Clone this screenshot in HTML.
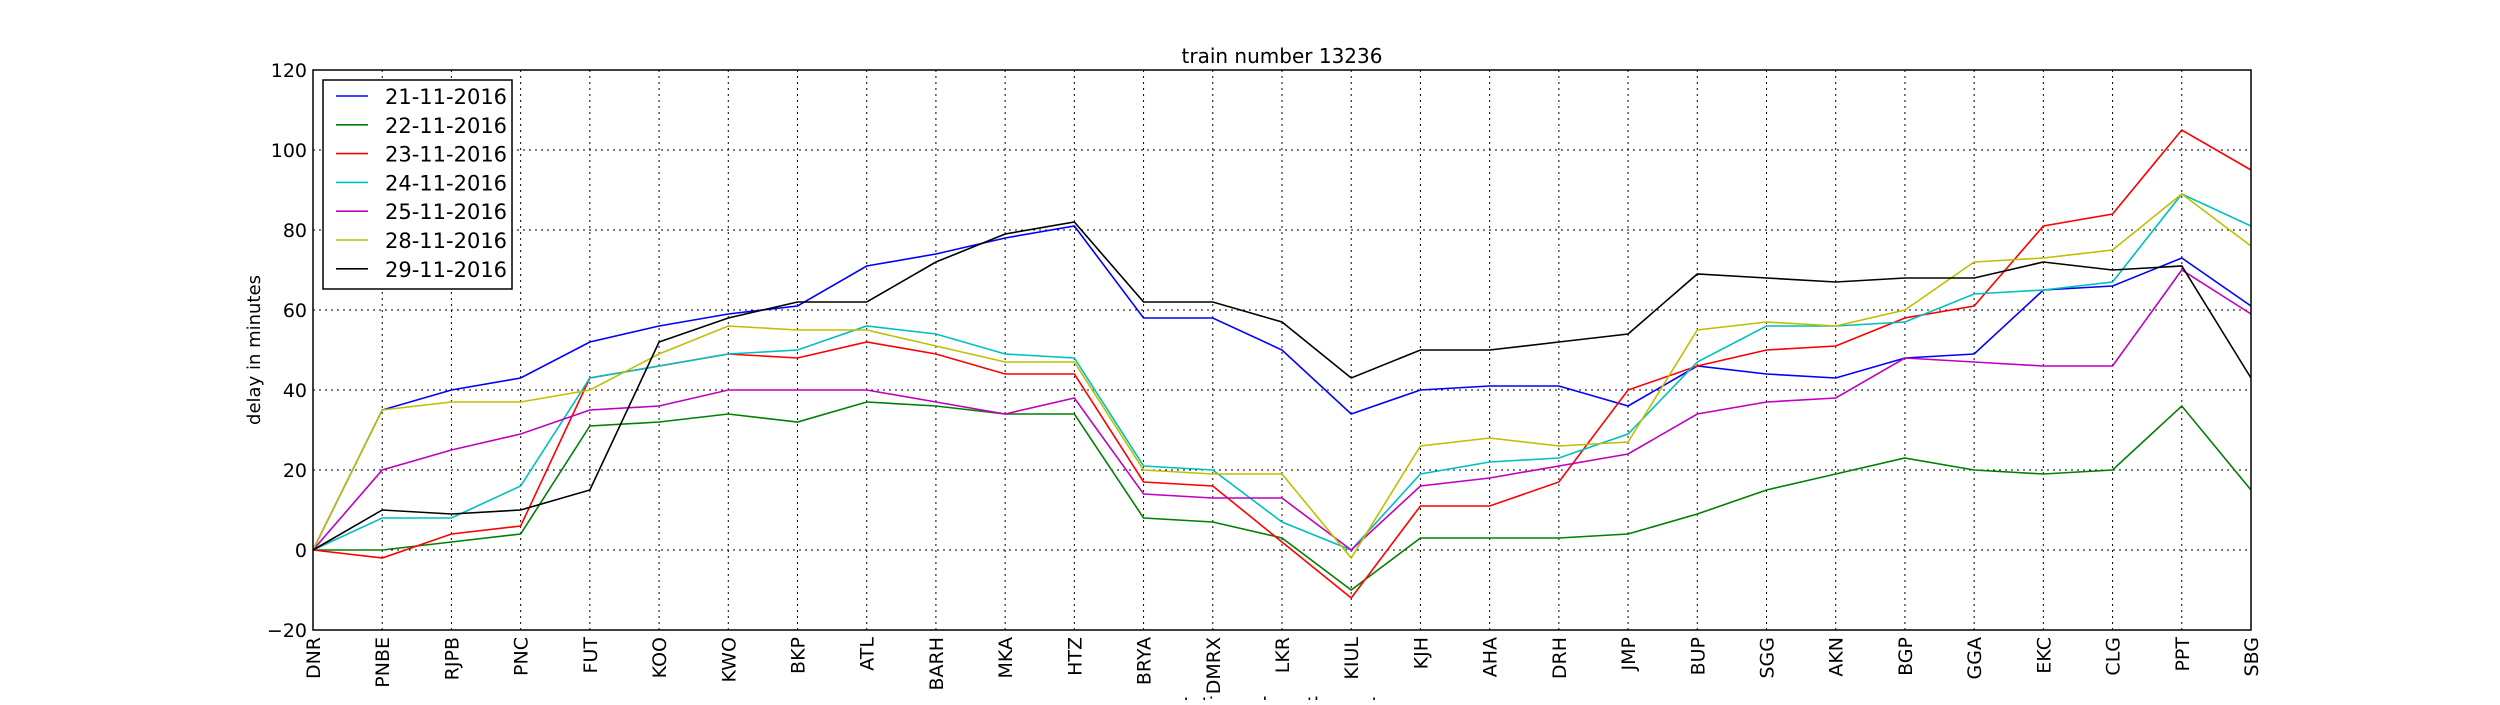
<!DOCTYPE html>
<html><head><meta charset="utf-8"><style>
body{margin:0;background:#fff;}
svg text{font-family:"DejaVu Sans","Liberation Sans",sans-serif;}
</style></head><body>
<svg id="chart" width="2500" height="700" xmlns="http://www.w3.org/2000/svg">
<rect width="2500" height="700" fill="#fff"/>
<text x="1282" y="63" font-size="20" text-anchor="middle">train number 13236</text>
<text transform="translate(260,350) rotate(-90)" font-size="18" text-anchor="middle">delay in minutes</text>
<text x="1282" y="710" font-size="18" text-anchor="middle">stations along the route</text>
<g id="grid"></g><g id="series"></g><g id="axes"></g><g id="legend"></g>
</svg>
<script>
const stations=["DNR","PNBE","RJPB","PNC","FUT","KOO","KWO","BKP","ATL","BARH","MKA","HTZ","BRYA","DMRX","LKR","KIUL","KJH","AHA","DRH","JMP","BUP","SGG","AKN","BGP","GGA","EKC","CLG","PPT","SBG"];
const yTicks=[-20,0,20,40,60,80,100,120];
const seriesNames=["21-11-2016","22-11-2016","23-11-2016","24-11-2016","25-11-2016","28-11-2016","29-11-2016"];
const seriesColors=["#0000ff","#008000","#ff0000","#00bfbf","#bf00bf","#bfbf00","#000000"];
const s21=[0,35,40,43,52,56,59,61,71,74,78,81,58,58,50,34,40,41,41,36,46,44,43,48,49,65,66,73,61];
const s22=[0,0,2,4,31,32,34,32,37,36,34,34,8,7,3,-10,3,3,3,4,9,15,19,23,20,19,20,36,15];
const s23=[0,-2,4,6,43,46,49,48,52,49,44,44,17,16,2,-12,11,11,17,40,46,50,51,58,61,81,84,105,95];
const s24=[0,8,8,16,43,46,49,50,56,54,49,48,21,20,7,0,19,22,23,29,47,56,56,57,64,65,67,89,81];
const s25=[0,20,25,29,35,36,40,40,40,37,34,38,14,13,13,0,16,18,21,24,34,37,38,48,47,46,46,70,59];
const s28=[0,35,37,37,40,49,56,55,55,51,47,47,20,19,19,-2,26,28,26,27,55,57,56,60,72,73,75,89,76];
const s29=[0,10,9,10,15,52,58,62,62,72,79,82,62,62,57,43,50,50,52,54,69,68,67,68,68,72,70,71,43];
const allSeries=[s21,s22,s23,s24,s25,s28,s29];
const L=313,R=2251,T=70,B=630,yMin=-20,yMax=120;
const xs=i=>L+(R-L)*i/(stations.length-1);
const ys=v=>B-(v-yMin)/(yMax-yMin)*(B-T);
const NS="http://www.w3.org/2000/svg";
function mk(tag,attrs,parent){const e=document.createElementNS(NS,tag);for(const k in attrs)e.setAttribute(k,attrs[k]);parent.appendChild(e);return e;}
const grid=document.getElementById('grid'),axes=document.getElementById('axes'),ser=document.getElementById('series'),leg=document.getElementById('legend');
yTicks.forEach(v=>{
  const g=mk('line',{x1:L,x2:R,y1:ys(v),y2:ys(v),stroke:'#000','stroke-width':1,'stroke-dasharray':'2,4'},grid);
  
  
  const t=mk('text',{x:L-6,y:ys(v)+7,'font-size':19,'text-anchor':'end'},axes);
  t.textContent=v<0?'\u2212'+(-v):String(v);
  
  
});
stations.forEach((s,i)=>{
  const g=mk('line',{x1:xs(i),x2:xs(i),y1:T,y2:B,stroke:'#000','stroke-width':1,'stroke-dasharray':'2,4'},grid);
  
  
  const t=mk('text',{transform:`translate(${xs(i)+7},${B+7}) rotate(-90)`,'font-size':19,'text-anchor':'end'},axes);
  t.textContent=s;
  
  
});
allSeries.forEach((arr,k)=>{
  const p=mk('polyline',{points:arr.map((v,i)=>xs(i)+','+ys(v)).join(' '),fill:'none',stroke:seriesColors[k],'stroke-width':1.6},ser);
  
  
});
const fr=mk('rect',{x:L,y:T,width:R-L,height:B-T,fill:'none',stroke:'#000','stroke-width':1.5},axes);


const lb=mk('rect',{x:323,y:80,width:189,height:209,fill:'#fff',stroke:'#000','stroke-width':1.5},leg);


seriesNames.forEach((n,k)=>{
  const y=96+k*28.8;
  const l=mk('line',{x1:336,x2:368,y1:y,y2:y,stroke:seriesColors[k],'stroke-width':1.6},leg);
  
  
  const t=mk('text',{x:385,y:y+8,'font-size':21},leg);
  t.textContent=n;
  
  
});
</script>
</body></html>
